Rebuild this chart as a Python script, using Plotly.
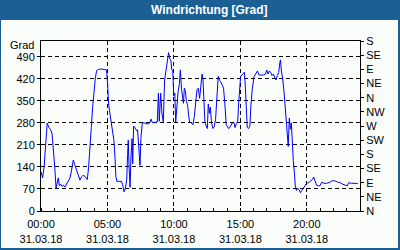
import plotly.graph_objects as go

DATE = "2018-03-31"
times = ["00:00","00:03","00:07","00:14","00:21","00:28","00:36","00:44","00:50","00:56",
"01:02","01:08","01:12","01:18","01:23","01:29","01:35","01:41","01:48","01:56",
"02:03","02:11","02:18","02:26","02:32","02:38","02:44","02:50","02:56","03:02",
"03:08","03:16","03:23","03:29","03:35","03:41","03:47","03:53","03:59","04:05",
"04:11","04:20","04:34","04:49","04:56","05:01","05:05","05:11","05:17","05:23",
"05:29","05:34","05:38","05:43","05:50","05:56","06:02","06:08","06:15","06:21",
"06:27","06:31","06:34","06:37","06:42","06:46","06:51","06:54","06:58","07:04",
"07:12","07:16","07:21","07:27","07:31","07:37","07:45","07:54","08:03","08:11",
"08:17","08:23","08:30","08:39","08:45","08:50","08:54","09:00","09:06","09:12",
"09:18","09:24","09:30","09:36","09:41","09:46","09:50","09:55","09:59","10:04",
"10:08","10:13","10:19","10:25","10:29","10:34","10:38","10:43","10:47","10:52",
"10:56","11:02","11:07","11:11","11:19","11:26","11:32","11:38","11:44","11:50",
"11:56","12:02","12:07","12:11","12:16","12:20","12:26","12:31","12:35","12:40",
"12:44","12:50","12:56","13:02","13:08","13:14","13:20","13:26","13:32","13:38",
"13:44","13:50","13:56","14:03","14:09","14:16","14:24","14:30","14:36","14:42",
"14:48","14:52","14:57","15:01","15:07","15:13","15:18","15:22","15:27","15:31",
"15:37","15:43","15:47","15:54","16:02","16:09","16:17","16:24","16:33","16:44",
"16:53","16:59","17:05","17:11","17:17","17:23","17:29","17:35","17:41","17:47",
"17:53","17:58","18:01","18:05","18:11","18:17","18:23","18:27","18:32","18:36",
"18:41","18:46","18:50","18:55","18:59","19:04","19:08","19:13","19:19","19:25",
"19:31","19:37","19:44","19:52","19:59","20:08","20:17","20:25","20:31","20:37",
"20:44","20:52","20:59","21:08","21:17","21:29","21:41","21:54","22:06","22:18",
"22:30","22:42","22:54","23:03","23:09","23:22","23:38","23:50"]

degrees = [125,118,105,140,200,279,265,258,245,200,
140,72,90,105,80,85,78,82,76,85,
95,105,130,162,148,135,120,105,98,108,
112,112,105,100,140,220,265,330,380,420,
446,450,451,450,448,400,340,310,285,262,
225,170,110,93,95,93,95,85,61,72,
100,180,225,150,75,170,230,150,270,265,
255,258,215,145,230,279,280,278,276,280,
292,280,281,283,283,374,285,374,310,283,
416,445,470,503,485,480,450,445,365,375,
283,330,380,405,448,390,374,342,390,380,
350,335,300,282,280,274,300,350,385,390,
358,400,435,420,331,280,270,262,340,310,
330,280,262,268,290,370,428,415,410,400,
390,340,275,265,262,270,280,282,265,278,
285,340,400,427,432,438,441,400,330,265,
262,270,330,390,427,435,445,432,432,432,
435,448,435,445,440,430,435,425,416,430,
440,470,480,445,420,380,320,275,235,205,
295,260,280,200,160,120,80,65,72,68,
58,65,72,78,88,90,95,100,108,95,
82,80,80,92,88,88,90,96,96,92,
90,85,82,80,90,88,88,87]

left_ticks = [0, 70, 140, 210, 280, 350, 420, 490]
compass_vals = [0, 45, 90, 135, 180, 225, 270, 315, 360, 405, 450, 495, 540]
compass_labels = ["N","NE","E","SE","S","SW","W","NW","N","NE","E","SE","S"]
x_tick_times = ["00:00","05:00","10:00","15:00","20:00"]
x_tick_date = "31.03.18"
title = "Windrichtung [Grad]"
unit = "Grad"

xs = [f"{DATE} {t}" for t in times]

W, H = 400, 250
L, R, T, B = 41, 360, 41, 211
def px(x): return (x - L) / (R - L)
def py(y): return (B - y) / (B - T)

FONT = "Liberation Sans"
BLUE = "#1c5f95"

fig = go.Figure()
fig.add_trace(go.Scatter(x=xs, y=degrees, mode="lines",
                         line=dict(color="#0000ff", width=1), hoverinfo="skip"))
fig.add_trace(go.Scatter(x=[xs[0]], y=[0], yaxis="y2", mode="markers",
                         marker=dict(opacity=0), hoverinfo="skip"))

fig.update_layout(
    width=W, height=H, margin=dict(l=L, r=W - R, t=T, b=H - B, autoexpand=False),
    paper_bgcolor="#fbfdfb", plot_bgcolor="#fbfdfb", showlegend=False,
    font=dict(family=FONT, size=11, color="black"),
    xaxis=dict(type="date", range=[f"{DATE} 00:00", "2018-04-01 00:00"], automargin=False,
               tickvals=[f"{DATE} {t}" for t in x_tick_times],
               ticktext=[f"{t}<br>{x_tick_date}" for t in x_tick_times],
               ticks="", ticklabelstandoff=3,
               showgrid=True, gridcolor="black", griddash="4px,3px", gridwidth=1,
               showline=True, linecolor="black", linewidth=1, mirror=True, zeroline=False,
               minor=dict(dtick=3600000, ticks="inside", ticklen=3, tickcolor="black", showgrid=False),
               tickfont=dict(family=FONT, size=11)),
    yaxis=dict(range=[0, 540], tickvals=left_ticks, ticks="outside", ticklen=3, tickcolor="black",
               automargin=False,
               showgrid=True, gridcolor="black", griddash="4px,3px", gridwidth=1,
               showline=True, linecolor="black", linewidth=1, zeroline=False,
               tickfont=dict(family=FONT, size=11)),
    yaxis2=dict(range=[0, 540], overlaying="y", side="right", tickvals=compass_vals,
                automargin=False,
                ticktext=compass_labels, ticks="outside", ticklen=3, tickcolor="black",
                showgrid=False, showline=True, linecolor="black", linewidth=1, zeroline=False,
                tickfont=dict(family=FONT, size=11)),
    shapes=[
        dict(type="rect", xref="paper", yref="paper", x0=px(0), x1=px(W), y0=py(20), y1=py(0),
             fillcolor=BLUE, line=dict(width=0), layer="above"),
        dict(type="rect", xref="paper", yref="paper", x0=px(0), x1=px(1), y0=py(H), y1=py(20),
             fillcolor=BLUE, line=dict(width=0), layer="above"),
        dict(type="rect", xref="paper", yref="paper", x0=px(W - 2), x1=px(W), y0=py(H), y1=py(20),
             fillcolor=BLUE, line=dict(width=0), layer="above"),
        dict(type="rect", xref="paper", yref="paper", x0=px(0), x1=px(W), y0=py(H), y1=py(H - 2),
             fillcolor=BLUE, line=dict(width=0), layer="above"),
    ],
    annotations=[
        dict(text=f"<b>{title}</b>", xref="paper", yref="paper", x=px(209), y=py(10),
             showarrow=False, xanchor="center", yanchor="middle",
             font=dict(family=FONT, size=12, color="white")),
        dict(text=unit, xref="paper", yref="paper", x=px(36), y=py(45),
             showarrow=False, xanchor="right", yanchor="middle",
             font=dict(family=FONT, size=11, color="black")),
    ],
)

fig.write_html("out.html")
